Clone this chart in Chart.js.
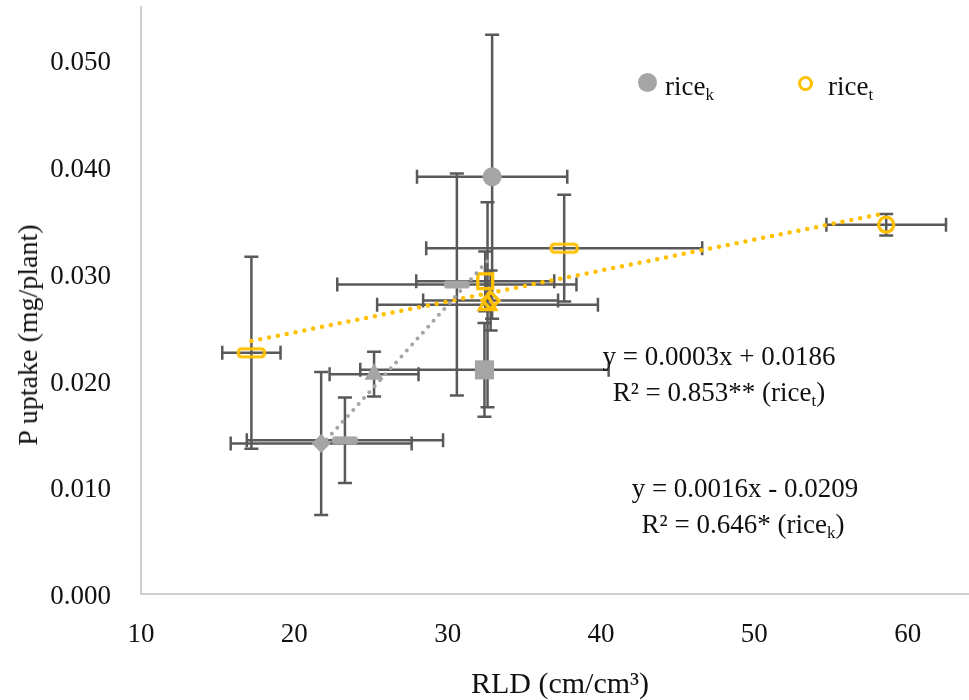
<!DOCTYPE html>
<html>
<head>
<meta charset="utf-8">
<script src="https://cdn.jsdelivr.net/npm/chart.js@4.4.0/dist/chart.umd.min.js"></script>
<style>
  html, body { margin: 0; padding: 0; background: #fff; }
  #wrap { position: relative; width: 969px; height: 700px; }
  .txt { position: absolute; font-family: "Liberation Serif", serif; font-size: 27px; line-height: 28px; color: #111; white-space: nowrap; }
  .txt sub { font-size: 17px; vertical-align: -5px; line-height: 0; }
  .c { transform: translateX(-50%); }
  .mk { position: absolute; border-radius: 50%; box-sizing: border-box; }
  .ytitle { left: 28px; top: 335px; font-size: 28px; transform: translate(-50%, -50%) rotate(-90deg); }
  .xtitle { left: 560px; top: 683px; font-size: 30px; line-height: 32px; transform: translate(-50%, -50%); }
</style>
</head>
<body>
<div id="wrap">
  <canvas id="rld-uptake" width="969" height="700"></canvas>

  <!-- axis titles -->
  <div class="txt ytitle">P uptake (mg/plant)</div>
  <div class="txt xtitle">RLD (cm/cm³)</div>

  <!-- legend -->
  <div class="mk" style="left:638px; top:73px; width:19px; height:19px; background:#a5a5a5;"></div>
  <div class="txt" style="left:665px; top:72px;">rice<sub>k</sub></div>
  <div class="mk" style="left:798px; top:76px; width:15px; height:15px; border:3.5px solid #ffc000;"></div>
  <div class="txt" style="left:828px; top:72px;">rice<sub>t</sub></div>

  <!-- regression labels -->
  <div class="txt c" style="left:719px; top:342px;">y = 0.0003x + 0.0186</div>
  <div class="txt c" style="left:719px; top:378px;">R² = 0.853** (rice<sub>t</sub>)</div>
  <div class="txt c" style="left:745px; top:474px;">y = 0.0016x - 0.0209</div>
  <div class="txt c" style="left:743px; top:510px;">R² = 0.646* (rice<sub>k</sub>)</div>
</div>

<script>
// rice_k (grey): circle, square, triangle, diamond, dash, dash
var rldK    = [32.9, 32.4, 25.2, 21.75, 23.3, 30.6];
var upK     = [0.0391, 0.0210, 0.0206, 0.0141, 0.0144, 0.0290];
var rldErrK = [4.9, 8.1, 2.9, 5.9, 6.4, 7.8];
var upErrK  = [0.0133, 0.0044, 0.0021, 0.0067, 0.0040, 0.0104];

// rice_t (yellow, hollow): same marker order
var rldT    = [58.6, 32.45, 32.6, 32.8, 17.2, 37.6];
var upT     = [0.0346, 0.0293, 0.0271, 0.0275, 0.0226, 0.0324];
var rldErrT = [3.9, 4.5, 7.2, 4.4, 1.9, 9.0];
var upErrT  = [0.0010, 0.0028, 0.0096, 0.0028, 0.0090, 0.0050];

// linear trend line end points as drawn
var trendK = [[21.75, 0.0139], [32.9, 0.0317]];
var trendT = [[17.2, 0.0237], [58.6, 0.0357]];

var xTicks = [10, 20, 30, 40, 50, 60];
var yTicks = [0, 0.01, 0.02, 0.03, 0.04, 0.05];

var GREY = '#a5a5a5';
var GOLD = '#ffc000';

function toPoints(xs, ys) {
  return xs.map(function (x, i) { return { x: x, y: ys[i] }; });
}

// wide "dash" marker, filled or hollow
function dashMarker(fill, stroke) {
  var c = document.createElement('canvas');
  c.width = 32; c.height = 14;
  var g = c.getContext('2d');
  var x = 3, y = 3, w = 26, h = 8, r = 3;
  g.beginPath();
  g.moveTo(x + r, y);
  g.lineTo(x + w - r, y);
  g.arcTo(x + w, y, x + w, y + r, r);
  g.lineTo(x + w, y + h - r);
  g.arcTo(x + w, y + h, x + w - r, y + h, r);
  g.lineTo(x + r, y + h);
  g.arcTo(x, y + h, x, y + h - r, r);
  g.lineTo(x, y + r);
  g.arcTo(x, y, x + r, y, r);
  g.closePath();
  if (fill) { g.fillStyle = fill; g.fill(); }
  if (stroke) { g.strokeStyle = stroke; g.lineWidth = 3.2; g.stroke(); }
  return c;
}
var dashK = dashMarker(GREY, null);
var dashT = dashMarker(null, GOLD);

// error bars, drawn under the markers
var errorBars = {
  id: 'errorBars',
  beforeDatasetsDraw: function (chart) {
    var ctx = chart.ctx, xs = chart.scales.x, ys = chart.scales.y, cap = 7;
    ctx.save();
    ctx.strokeStyle = '#595959';
    ctx.lineWidth = 2.5;
    chart.data.datasets.forEach(function (ds) {
      if (!ds.errX) return;
      ds.data.forEach(function (p, i) {
        var x = xs.getPixelForValue(p.x), y = ys.getPixelForValue(p.y);
        var x0 = xs.getPixelForValue(p.x - ds.errX[i]), x1 = xs.getPixelForValue(p.x + ds.errX[i]);
        var y0 = ys.getPixelForValue(p.y - ds.errY[i]), y1 = ys.getPixelForValue(p.y + ds.errY[i]);
        ctx.beginPath();
        ctx.moveTo(x0, y); ctx.lineTo(x1, y);
        ctx.moveTo(x0, y - cap); ctx.lineTo(x0, y + cap);
        ctx.moveTo(x1, y - cap); ctx.lineTo(x1, y + cap);
        ctx.moveTo(x, y0); ctx.lineTo(x, y1);
        ctx.moveTo(x - cap, y0); ctx.lineTo(x + cap, y0);
        ctx.moveTo(x - cap, y1); ctx.lineTo(x + cap, y1);
        ctx.stroke();
      });
    });
    ctx.restore();
  }
};

var font = { family: '"Liberation Serif", serif', size: 27 };

var ctx = document.getElementById('rld-uptake').getContext('2d');
var chart = new Chart(ctx, {
  type: 'scatter',
  data: {
    datasets: [
      {
        label: 'trend k',
        type: 'line',
        data: toPoints(trendK.map(function (p) { return p[0]; }), trendK.map(function (p) { return p[1]; })),
        borderColor: GREY,
        borderWidth: 4,
        borderDash: [0, 8],
        borderCapStyle: 'round',
        pointRadius: 0,
        fill: false,
        order: 0,
      },
      {
        label: 'trend t',
        type: 'line',
        data: toPoints(trendT.map(function (p) { return p[0]; }), trendT.map(function (p) { return p[1]; })),
        borderColor: GOLD,
        borderWidth: 4.5,
        borderDash: [0, 9],
        borderCapStyle: 'round',
        pointRadius: 0,
        fill: false,
        order: 0,
      },
      {
        label: 'rice_t',
        data: toPoints(rldT, upT),
        errX: rldErrT,
        errY: upErrT,
        pointStyle: ['circle', 'rect', 'triangle', 'rectRot', dashT, dashT],
        pointRadius: [7.5, 10.5, 9.5, 8.5, 10, 10],
        pointHoverRadius: [7.5, 10.5, 9.5, 8.5, 10, 10],
        backgroundColor: 'rgba(0,0,0,0)',
        borderColor: GOLD,
        borderWidth: 3.3,
        order: 1,
      },
      {
        label: 'rice_k',
        data: toPoints(rldK, upK),
        errX: rldErrK,
        errY: upErrK,
        pointStyle: ['circle', 'rect', 'triangle', 'rectRot', dashK, dashK],
        pointRadius: [9.5, 13.5, 11, 9.5, 10, 10],
        pointHoverRadius: [9.5, 13.5, 11, 9.5, 10, 10],
        backgroundColor: GREY,
        borderColor: GREY,
        borderWidth: 0,
        order: 2,
      },
    ],
  },
  options: {
    responsive: false,
    animation: false,
    events: [],
    layout: { autoPadding: false, padding: { top: 7, right: 0, left: 0, bottom: 0 } },
    plugins: {
      legend: { display: false },
      tooltip: { enabled: false },
    },
    scales: {
      x: {
        type: 'linear',
        min: 10,
        max: 64,
        grid: { display: false, drawTicks: false },
        border: { display: true, color: '#d0d0d0', width: 2 },
        afterBuildTicks: function (s) {
          s.ticks = xTicks.map(function (v) { return { value: v }; });
        },
        afterFit: function (s) {
          s.height = 106;
          s.paddingLeft = 0; s.paddingRight = 0;
        },
        ticks: { font: font, color: '#111', padding: 25, maxRotation: 0 },
        title: { display: false },
      },
      y: {
        type: 'linear',
        min: 0,
        max: 0.055,
        grid: { display: false, drawTicks: false },
        border: { display: true, color: '#d0d0d0', width: 2 },
        afterBuildTicks: function (s) {
          s.ticks = yTicks.map(function (v) { return { value: v }; });
        },
        afterFit: function (s) {
          s.width = 141;
          s.paddingTop = 0; s.paddingBottom = 0;
        },
        ticks: {
          font: font,
          color: '#111',
          padding: 30,
          labelOffset: 3,
          callback: function (v) { return v.toFixed(3); },
        },
        title: { display: false },
      },
    },
  },
  plugins: [errorBars],
});
</script>
</body>
</html>
